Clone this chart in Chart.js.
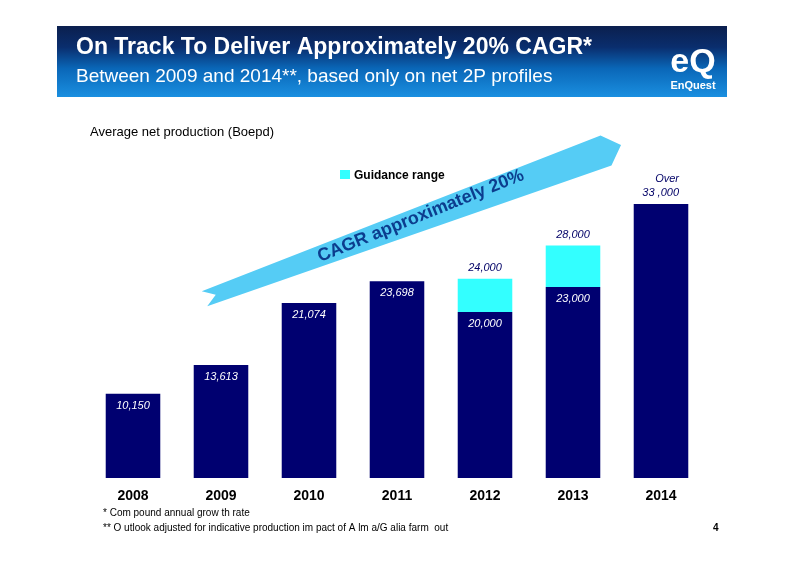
<!DOCTYPE html>
<html><head><meta charset="utf-8">
<script src="https://cdn.jsdelivr.net/npm/chart.js@4"></script>
<style>html,body{margin:0;padding:0;background:#fff;}canvas{display:block;}</style>
</head><body>
<div style="width:800px;height:566px;position:relative"><canvas id="c" width="800" height="566"></canvas></div>
<script>
const years = ['2008','2009','2010','2011','2012','2013','2014'];
const baseValues = [10150,13613,21074,23698,20000,23000,33000];
const rangeValues = [0,0,0,0,4000,5000,0];
const baseLabels = ['10,150','13,613','21,074','23,698','20,000','23,000',''];
const topLabels = ['','','','','24,000','28,000','Over|33 ,000'];

const deco = {
  id:'deco',
  beforeDraw(chart){
    const c = chart.ctx;
    c.save();
    const g = c.createLinearGradient(0,26,0,97);
    g.addColorStop(0,'#0b1f4e'); g.addColorStop(0.3,'#0a2e6e'); g.addColorStop(0.6,'#0a67b8'); g.addColorStop(1,'#1a8fe0');
    c.fillStyle = g; c.fillRect(57,26,670,71);
    c.fillStyle='#fff'; c.textBaseline='alphabetic';
    c.font='bold 23px "Liberation Sans", Arial';
    c.fillText('On Track To Deliver Approximately 20% CAGR*',76,54);
    c.font='19px "Liberation Sans", Arial';
    c.fillText('Between 2009 and 2014**, based only on net 2P profiles',76,82);
    c.font='bold 34px "Liberation Sans", Arial'; c.textAlign='center';
    c.fillText('eQ',693,72);
    c.font='bold 11px "Liberation Sans", Arial';
    c.fillText('EnQuest',693,89);
    c.textAlign='left';
    c.fillStyle='#000'; c.font='13px "Liberation Sans", Arial';
    c.fillText('Average net production (Boepd)',90,136);
    c.fillStyle='#33ffff'; c.fillRect(340,170,10,9);
    c.fillStyle='#000'; c.font='bold 12px "Liberation Sans", Arial';
    c.fillText('Guidance range',354,179);
    c.font='10px "Liberation Sans", Arial';
    c.fillText('* Com pound annual grow th rate',103,516);
    c.fillText('** O utlook adjusted for indicative production im pact of A lm a/G alia farm  out',103,531);
    c.font='bold 10px "Liberation Sans", Arial';
    c.fillText('4',713,531);
    c.restore();
  },
  afterDatasetsDraw(chart){
    const c = chart.ctx;
    c.save();
    const m0 = chart.getDatasetMeta(0), m1 = chart.getDatasetMeta(1);
    c.font='italic 11px "Liberation Sans", Arial';
    baseLabels.forEach((t,i)=>{ if(!t) return; const b=m0.data[i];
      c.fillStyle='#fff'; c.textAlign='center'; c.fillText(t,b.x,b.y+15);});
    topLabels.forEach((t,i)=>{ if(!t) return; const b = rangeValues[i]? m1.data[i]: m0.data[i];
      c.fillStyle='#000066'; c.textAlign = i===6?'right':'center';
      const parts=t.split('|'); const x = i===6? b.x+18 : b.x;
      parts.forEach((p,k)=>c.fillText(p,x,b.y-8-(parts.length-1-k)*14));});
    c.translate(212,296); c.rotate(-20*Math.PI/180);
    const L=420, h0=8, h1=18;
    c.fillStyle='#55ccf5';
    c.beginPath(); c.moveTo(-8,-h0); c.lineTo(L,-h1); c.lineTo(L+16,-2); c.lineTo(L,h1-4); c.lineTo(-8,h0); c.lineTo(4,0); c.closePath(); c.fill();
    c.rotate(-2*Math.PI/180);
    c.fillStyle='#0c3d8e'; c.font='bold 18px "Liberation Sans", Arial'; c.textAlign='left';
    c.fillText('CAGR approximately 20%',113,9);
    c.restore();
  }
};

new Chart(document.getElementById('c'),{
  type:'bar',
  data:{labels:years,datasets:[
    {data:baseValues,backgroundColor:'#000070',barPercentage:0.62,categoryPercentage:1},
    {data:rangeValues,backgroundColor:'#33ffff',barPercentage:0.62,categoryPercentage:1}
  ]},
  options:{responsive:false,animation:false,
    layout:{padding:{left:89,right:95,top:146,bottom:58}},
    plugins:{legend:{display:false},tooltip:{enabled:false}},
    scales:{
      x:{stacked:true,grid:{display:false},border:{display:false},
         ticks:{color:'#000',font:{family:'"Liberation Sans", Arial',size:14,weight:'bold'},padding:2},
         afterFit:s=>{s.height=30;}},
      y:{stacked:true,display:false,min:0,max:40000}
    }},
  plugins:[deco]
});
</script></body></html>
